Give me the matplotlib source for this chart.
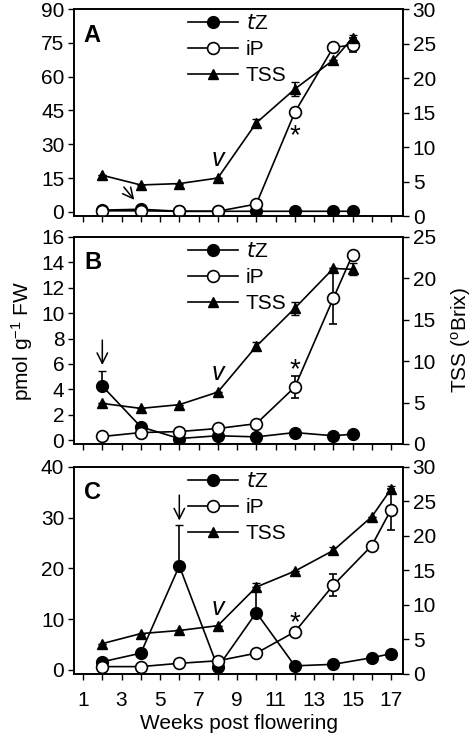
import numpy as np
import matplotlib.pyplot as plt
from matplotlib.lines import Line2D

plt.rcParams['font.family'] = ['Liberation Sans', 'DejaVu Sans']
plt.rcParams['mathtext.default'] = 'regular'
plt.rcParams['font.size'] = 15

# panel A
weeks_a = [2, 4, 6, 8, 10, 12, 14, 15]
tz_a = [0.8, 1.2, 0.3, 0.3, 0.3, 0.3, 0.3, 0.3]
tz_a_err = [0, 0, 0, 0, 0, 0, 0, 0]
ip_a = [0.5, 0.5, 0.3, 0.3, 3.5, 44.2, 73.0, 74.0]
ip_a_err = [0, 0, 0, 0, 0, 0, 0, 3.0]
tss_a = [5.9, 4.5, 4.7, 5.5, 13.5, 18.4, 22.6, 25.8]
tss_a_err = [0, 0, 0, 0, 0.5, 1.0, 0, 0.5]

# panel B
weeks_b = [2, 4, 6, 8, 10, 12, 14, 15]
tz_b = [4.26, 1.05, 0.13, 0.35, 0.26, 0.6, 0.35, 0.47]
tz_b_err = [1.2, 0, 0, 0, 0, 0, 0, 0]
ip_b = [0.29, 0.6, 0.68, 0.92, 1.3, 4.18, 11.17, 14.6]
ip_b_err = [0, 0, 0, 0, 0, 0.86, 2.0, 0]
tss_b = [4.9, 4.3, 4.75, 6.27, 11.8, 16.4, 21.2, 21.1]
tss_b_err = [0, 0, 0, 0, 0.5, 0.8, 0, 0.7]

# panel C
weeks_c = [2, 4, 6, 8, 10, 12, 14, 16, 17]
tz_c = [1.6, 3.3, 20.5, 0.5, 11.3, 0.8, 1.1, 2.4, 3.2]
tz_c_err = [0, 0, 8.0, 0, 5.9, 0, 0, 0, 0]
ip_c = [0.65, 0.65, 1.3, 1.8, 3.3, 7.5, 16.7, 24.5, 31.6]
ip_c_err = [0, 0, 0, 0, 0, 0, 2.2, 0, 4.0]
tss_c = [4.4, 5.85, 6.3, 7.0, 12.6, 14.9, 17.9, 22.8, 26.8]
tss_c_err = [0, 0, 0, 0, 0, 0, 0.5, 0, 0.5]

panels = [
    dict(label='A', w=weeks_a, tz=tz_a, tze=tz_a_err, ip=ip_a, ipe=ip_a_err,
         tss=tss_a, tsse=tss_a_err, ylim=(-1.8, 90), yt=np.arange(0, 91, 15), rlim=(0, 30), rt=np.arange(0, 31, 5),
         v=(8, 23.5), star=(12, 33.7), arrow=((3.03, 12), (3.75, 4.4))),
    dict(label='B', w=weeks_b, tz=tz_b, tze=tz_b_err, ip=ip_b, ipe=ip_b_err,
         tss=tss_b, tsse=tss_b_err, ylim=(-0.3, 16), yt=np.arange(0, 17, 2), rlim=(0, 25), rt=np.arange(0, 26, 5),
         v=(8, 5.3), star=(12, 5.5), arrow=((2, 8.1), (2, 5.7))),
    dict(label='C', w=weeks_c, tz=tz_c, tze=tz_c_err, ip=ip_c, ipe=ip_c_err,
         tss=tss_c, tsse=tss_c_err, ylim=(-0.8, 40), yt=np.arange(0, 41, 10), rlim=(0, 30), rt=np.arange(0, 31, 5),
         v=(8, 12.2), star=(12, 9.25), arrow=((6, 35), (6, 28.9))),
]

fig = plt.figure(figsize=(4.72, 7.39), dpi=100)
bottoms = [0.7077, 0.3992, 0.0880]
h = 0.2801

for i, p in enumerate(panels):
    ax = fig.add_axes([0.1568, bottoms[i], 0.697, h])
    ax2 = ax.twinx()
    ax.errorbar(p['w'], p['tz'], yerr=[np.zeros(len(p['tze'])), p['tze']], color='black', lw=1.2,
                marker='o', ms=8.5, mfc='black', mec='black', capsize=3, elinewidth=1.2, zorder=3)
    ax.errorbar(p['w'], p['ip'], yerr=p['ipe'], color='black', lw=1.2,
                marker='o', ms=8.5, mfc='white', mec='black', mew=1.2, capsize=3, elinewidth=1.2, zorder=4)
    ax2.errorbar(p['w'], p['tss'], yerr=p['tsse'], color='black', lw=1.2,
                 marker='^', ms=7.5, mfc='black', mec='black', capsize=3, elinewidth=1.2)
    ax.set_ylim(*p['ylim'])
    ax.set_yticks(p['yt'])
    ax2.set_ylim(*p['rlim'])
    ax2.set_yticks(p['rt'])
    ax.set_xlim(0.53, 17.62)
    ax.set_xticks(np.arange(1, 18, 1))
    if i == 2:
        ax.set_xticklabels([str(k) if k % 2 == 1 else '' for k in range(1, 18)])
        ax.set_xlabel('Weeks post flowering', labelpad=3)
    else:
        ax.set_xticklabels([])
    for a in (ax, ax2):
        a.tick_params(direction='out', length=4, width=1, labelsize=15, pad=3)
        for s in a.spines.values():
            s.set_linewidth(1.2)
    ax.tick_params(axis='x', pad=8)
    ax.text(0.03, 0.93, p['label'], transform=ax.transAxes, fontsize=17, fontweight='bold', va='top')
    ax.text(p['v'][0], p['v'][1], 'v', fontsize=18, style='italic', ha='center', va='center')
    ax.text(p['star'][0], p['star'][1], '*', fontsize=20, ha='center', va='center')
    ax.annotate('', xy=p['arrow'][1], xytext=p['arrow'][0],
                arrowprops=dict(arrowstyle='->,head_length=0.5,head_width=0.25', color='black', lw=1.1))
    handles = [
        Line2D([], [], color='black', marker='o', ms=8.5, mfc='black', lw=1.2),
        Line2D([], [], color='black', marker='o', ms=8.5, mfc='white', mew=1.2, lw=1.2),
        Line2D([], [], color='black', marker='^', ms=7.5, mfc='black', lw=1.2),
    ]
    ax2.legend(handles, ['$\\it{t}$Z', 'iP', 'TSS'], loc='upper left', bbox_to_anchor=(0.31, 1.035),
               frameon=False, fontsize=15, handlelength=2.4, handletextpad=0.35, labelspacing=0.33,
               borderaxespad=0.2)
    if i == 1:
        ax.set_ylabel('pmol g$^{-1}$ FW', fontsize=15, labelpad=4)
        ax2.set_ylabel('TSS ($^{o}$Brix)', fontsize=15, labelpad=9)

fig.savefig('out.png', dpi=100)
